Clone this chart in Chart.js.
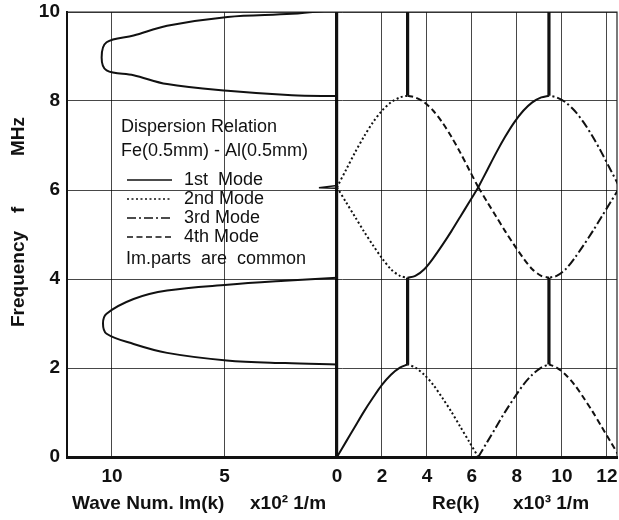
<!DOCTYPE html>
<html lang="en">
<head>
<meta charset="UTF-8" />
<title>Dispersion Relation Fe-Al</title>
<script src="https://cdn.jsdelivr.net/npm/chart.js"></script>
<style>
  html, body { margin: 0; padding: 0; background: #fff; }
  #wrap { width: 619px; height: 520px; }
</style>
</head>
<body>
<div id="wrap"><canvas id="dispChart" width="619" height="520"></canvas></div>
<script>
  // Re(k) samples over the first half zone (x10^3 1/m) and the band frequencies (MHz)
  const reK   = [0, 0.4, 0.8, 1.2, 1.6, 2.0, 2.4, 2.8, 3.1416];
  const band1 = [0, 0.34, 0.68, 1.02, 1.33, 1.62, 1.85, 2.01, 2.08];
  const band2 = [6.06, 5.73, 5.40, 5.07, 4.76, 4.47, 4.22, 4.07, 4.03];
  const band3 = [6.06, 6.45, 6.84, 7.20, 7.52, 7.78, 7.97, 8.08, 8.12];

  // Im(k) inside the stop bands (x10^2 1/m)
  const gap1F  = [2.08, 2.11, 2.17, 2.34, 2.54, 2.77, 3.00, 3.22, 3.55, 3.74, 3.87, 3.96, 4.03];
  const gap1Im = [0, 2.3, 4.9, 7.55, 9.04, 10.24, 10.4, 10.24, 9.04, 7.55, 4.86, 2.32, 0];
  const gap2F  = [8.11, 8.13, 8.23, 8.38, 8.58, 8.69, 8.98, 9.32, 9.47, 9.69, 9.89, 9.96, 10.05];
  const gap2Im = [0, 2.0, 4.86, 7.55, 9.04, 10.24, 10.46, 10.24, 9.04, 7.55, 4.86, 2.0, 0];
  const gap3F  = [6.04, 6.05, 6.10];
  const gap3Im = [0, 0.8, 0];

  // stop bands where Re(k) sits on the zone edge
  const stopLow  = [2.08, 4.03];
  const stopHigh = [8.12, 10.0];

  const modeLabels = ['1st  Mode', '2nd Mode', '3rd Mode', '4th Mode'];
  const modeStyles = ['solid', 'dotted', 'dashdot', 'dashed'];
  const yTicks   = [0, 2, 4, 6, 8, 10];
  const imTicks  = [10, 5];
  const reTicks  = [0, 2, 4, 6, 8, 10, 12];

  // line style of each band on the four half zones 0-pi, pi-2pi, 2pi-3pi, 3pi-4pi
  const band1Styles = ['solid', 'dotted', 'dashdot', 'dashed'];
  const band2Styles = ['dotted', 'solid', 'dashed', 'dashdot'];
  const band3Styles = ['dotted', 'dashed', 'solid', 'dashdot'];

  const dashes = {
    solid: [],
    dotted: [2, 2.5],
    dashdot: [9, 3, 2, 3],
    dashed: [6, 3.5]
  };

  const PI = Math.PI;
  const segStart = [0, 2 * PI, 2 * PI, 4 * PI];
  const segDir = [1, -1, 1, -1];

  function line(data, style, width, tension) {
    return {
      data: data,
      showLine: true,
      pointRadius: 0,
      borderColor: '#111',
      borderWidth: width,
      borderDash: dashes[style],
      borderCapStyle: 'butt',
      tension: tension,
      fill: false
    };
  }

  const datasets = [];

  // real parts: each band folded onto the four half zones
  [[band1, band1Styles], [band2, band2Styles], [band3, band3Styles]].forEach(([f, styles]) => {
    for (let s = 0; s < 4; s++) {
      const pts = reK.map((k, i) => ({ x: segStart[s] + segDir[s] * k, y: f[i] }));
      datasets.push(line(pts, styles[s], 2, 0.3));
    }
  });

  // stop bands on the right: Re(k) = pi and 3pi
  const edge = reK[reK.length - 1];
  [edge, 3 * edge].forEach(k => {
    datasets.push(line(stopLow.map(f => ({ x: k, y: f })), 'solid', 3.2, 0));
    datasets.push(line(stopHigh.map(f => ({ x: k, y: f })), 'solid', 3.2, 0));
  });

  // imaginary parts on the left half (plotted to negative x)
  datasets.push(line(gap1F.map((f, i) => ({ x: -gap1Im[i], y: f })), 'solid', 2, 0.35));
  datasets.push(line(gap2F.map((f, i) => ({ x: -gap2Im[i], y: f })), 'solid', 2, 0.35));
  datasets.push(line(gap3F.map((f, i) => ({ x: -gap3Im[i], y: f })), 'solid', 1.6, 0));

  const FONT = '"Liberation Sans", Arial, sans-serif';

  const annotate = {
    id: 'annotate',
    beforeDatasetsDraw(chart) {
      const { ctx, chartArea: a } = chart;
      ctx.save();
      ctx.strokeStyle = '#222';
      ctx.lineWidth = 1.2;
      ctx.beginPath();
      ctx.moveTo(a.left, a.top);
      ctx.lineTo(a.right, a.top);
      ctx.lineTo(a.right, a.bottom);
      ctx.stroke();
      ctx.restore();
    },
    afterDraw(chart) {
      const ctx = chart.ctx;
      ctx.save();
      ctx.fillStyle = '#111';
      ctx.strokeStyle = '#111';
      ctx.textBaseline = 'middle';
      ctx.textAlign = 'left';

      // legend block
      ctx.font = '18px ' + FONT;
      ctx.fillText('Dispersion Relation', 121, 127);
      ctx.fillText('Fe(0.5mm) - Al(0.5mm)', 121, 151);
      modeLabels.forEach((lab, i) => {
        const y = 180 + i * 19;
        ctx.setLineDash(dashes[modeStyles[i]]);
        ctx.lineWidth = 1.6;
        ctx.beginPath();
        ctx.moveTo(127, y);
        ctx.lineTo(172, y);
        ctx.stroke();
        ctx.setLineDash([]);
        ctx.fillText(lab, 184, y);
      });
      ctx.fillText('Im.parts  are  common', 126, 259);

      // axis titles
      ctx.font = 'bold 19px ' + FONT;
      ctx.fillText('Wave Num. Im(k)', 72, 504);
      ctx.fillText('x10\u00B2 1/m', 250, 504);
      ctx.fillText('Re(k)', 432, 504);
      ctx.fillText('x10\u00B3 1/m', 513, 504);

      ctx.translate(19, 0);
      ctx.rotate(-PI / 2);
      ctx.fillText('Frequency', -327, 0);
      ctx.fillText('f', -213, 0);
      ctx.fillText('MHz', -156, 0);
      ctx.restore();
    }
  };

  const tickFont = { family: FONT, size: 19, weight: 'bold' };

  new Chart(document.getElementById('dispChart'), {
    type: 'scatter',
    data: { datasets: datasets },
    options: {
      responsive: false,
      animation: false,
      layout: { padding: { left: 0, right: 2, top: 12, bottom: 0 } },
      plugins: { legend: { display: false }, tooltip: { enabled: false } },
      scales: {
        x: {
          type: 'linear',
          min: -12,
          max: 12.45,
          afterBuildTicks: scale => {
            scale.ticks = imTicks.map(v => ({ value: -v }))
              .concat(reTicks.map(v => ({ value: v })));
          },
          afterFit: scale => {
            scale.height = 63;
            scale.paddingLeft = 0;
            scale.paddingRight = 0;
          },
          ticks: {
            color: '#111',
            font: tickFont,
            padding: 8,
            autoSkip: false,
            maxRotation: 0,
            callback: v => String(Math.abs(v))
          },
          grid: {
            drawTicks: false,
            color: ctx => ctx.tick && ctx.tick.value === 0 ? '#111' : 'rgba(0,0,0,0.72)',
            lineWidth: ctx => ctx.tick && ctx.tick.value === 0 ? 3.2 : 1
          },
          border: { color: '#111', width: 3 }
        },
        y: {
          type: 'linear',
          min: 0,
          max: 10,
          afterBuildTicks: scale => {
            scale.ticks = yTicks.map(v => ({ value: v }));
          },
          afterFit: scale => {
            scale.width = 67;
            scale.paddingTop = 0;
            scale.paddingBottom = 0;
          },
          ticks: { color: '#111', font: tickFont, padding: 7 },
          grid: { drawTicks: false, color: 'rgba(0,0,0,0.72)', lineWidth: 1 },
          border: { color: '#111', width: 2 }
        }
      }
    },
    plugins: [annotate]
  });
</script>
</body>
</html>
